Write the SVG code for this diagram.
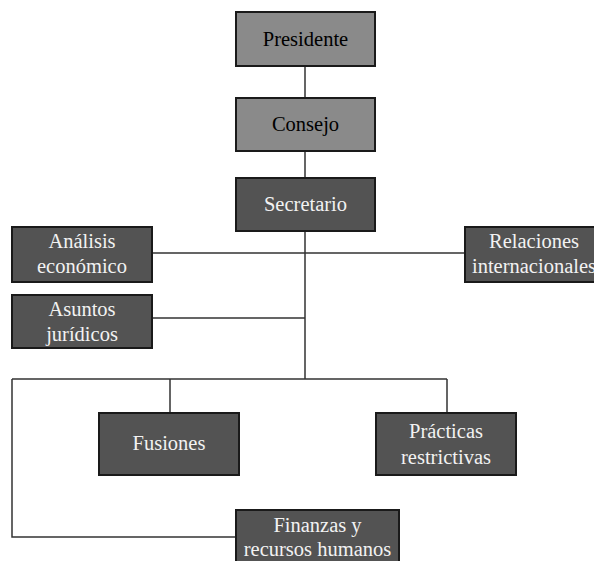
<svg xmlns="http://www.w3.org/2000/svg" width="594" height="561" viewBox="0 0 594 561">
<style>
.box{stroke:#1a1a1a;stroke-width:2}
.light{fill:#8a8a8a}
.dark{fill:#535353}
.tl{fill:#000}
.td{fill:#f2f2f2}
.c{fill:none;stroke:#333;stroke-width:1.5}
</style>
<rect width="594" height="561" fill="#fff"/>
<g id="connectors">
<path class="c" d="M305 66V98M305 151V178M305 231V379"/>
<path class="c" d="M152 253H465M152 318H305"/>
<path class="c" d="M12 379H447M170 379V413M447 379V413"/>
<path class="c" d="M12 379V537H236"/>
</g>
<g font-family="Liberation Serif, Times New Roman, serif" font-size="20.5" text-anchor="middle">
<g id="presidente"><rect class="box light" x="236" y="12" width="139" height="54"/><text class="tl" x="305.5" y="46">Presidente</text></g>
<g id="consejo"><rect class="box light" x="236" y="98" width="139" height="53"/><text class="tl" x="305.5" y="131">Consejo</text></g>
<g id="secretario"><rect class="box dark" x="236" y="178" width="139" height="53"/><text class="td" x="305.5" y="211">Secretario</text></g>
<g id="analisis"><rect class="box dark" x="12" y="227" width="140" height="55"/><text class="td" x="82" y="248">Análisis</text><text class="td" x="82" y="273">económico</text></g>
<g id="asuntos"><rect class="box dark" x="12" y="295" width="140" height="53"/><text class="td" x="82" y="316">Asuntos</text><text class="td" x="82" y="341">jurídicos</text></g>
<g id="relaciones"><rect class="box dark" x="465" y="227" width="140" height="55"/><text class="td" x="534" y="248">Relaciones</text><text class="td" x="534" y="273">internacionales</text></g>
<g id="fusiones"><rect class="box dark" x="99" y="413" width="140" height="62"/><text class="td" x="169" y="450">Fusiones</text></g>
<g id="practicas"><rect class="box dark" x="376" y="413" width="140" height="62"/><text class="td" x="446" y="438">Prácticas</text><text class="td" x="446" y="464">restrictivas</text></g>
<g id="finanzas"><rect class="box dark" x="236" y="510" width="163" height="60"/><text class="td" x="317.5" y="532">Finanzas y</text><text class="td" x="317.5" y="556">recursos humanos</text></g>
</g>
</svg>
